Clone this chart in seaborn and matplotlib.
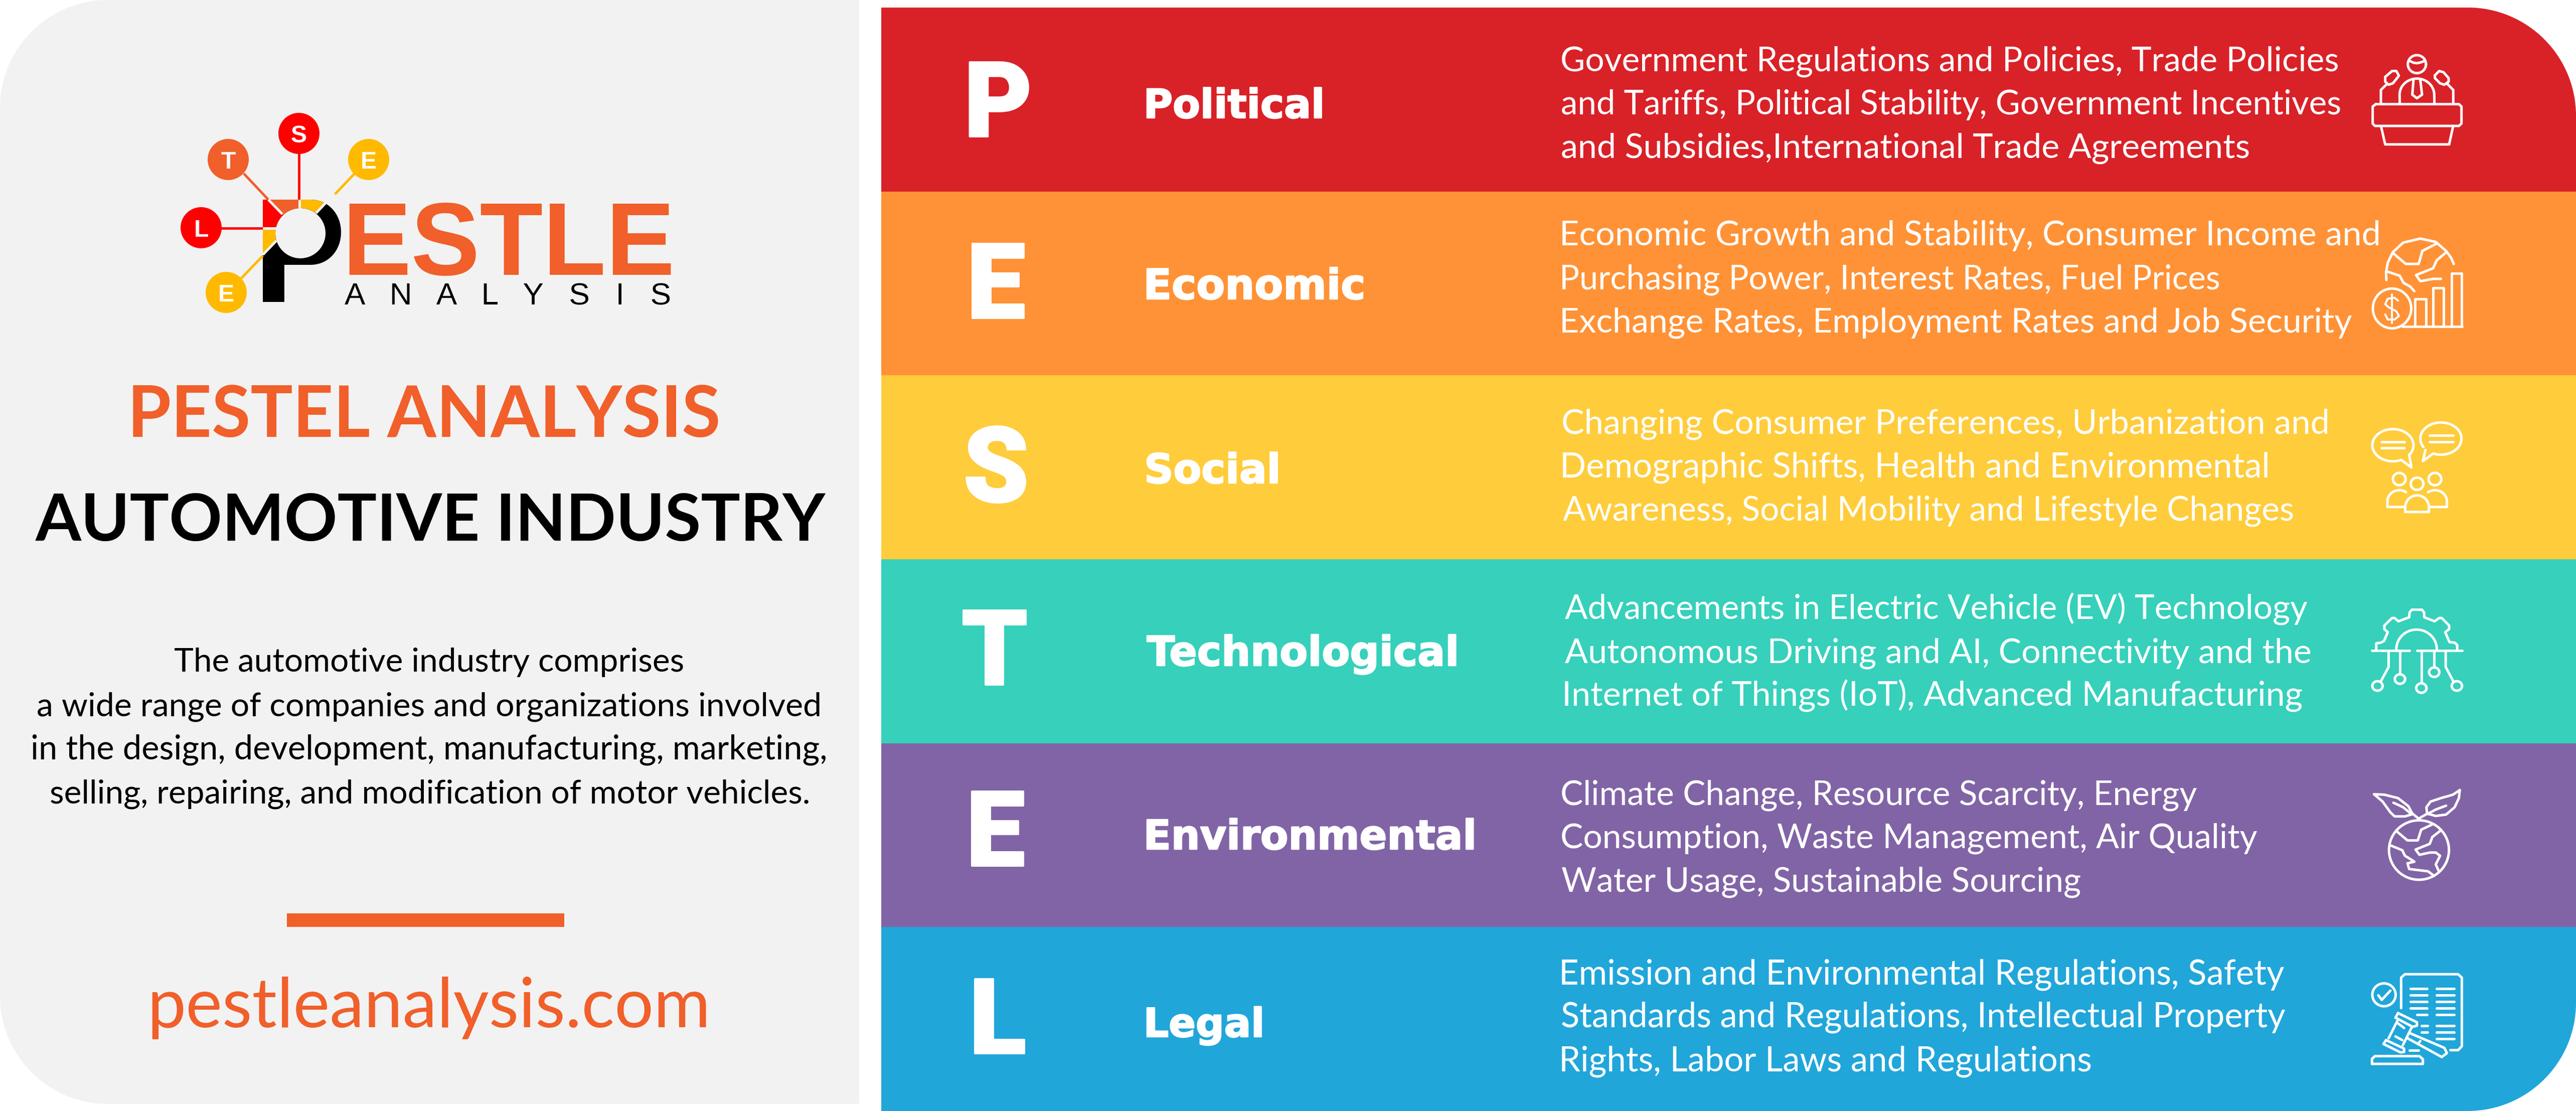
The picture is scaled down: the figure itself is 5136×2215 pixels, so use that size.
import numpy as np
import pandas as pd
import matplotlib
matplotlib.use("Agg")
import matplotlib.pyplot as plt
import matplotlib.patheffects as pe
from matplotlib.font_manager import FontProperties
from matplotlib.path import Path
from matplotlib.patches import PathPatch, Polygon, Circle, Rectangle
from matplotlib.textpath import TextPath
import seaborn as sns

# ---------- content ----------
factors = ["Political", "Economic", "Social", "Technological", "Environmental", "Legal"]
letters = ["P", "E", "S", "T", "E", "L"]
band_share = [1, 1, 1, 1, 1, 1]
band_colors = ["#D92128", "#FF9236", "#FFCC3B", "#36D0BB", "#8164A6", "#21A6DA"]
descriptions = [
    ["Government Regulations and Policies, Trade Policies",
     "and Tariffs, Political Stability, Government Incentives",
     "and Subsidies,International Trade Agreements"],
    ["Economic Growth and Stability, Consumer Income and",
     "Purchasing Power, Interest Rates, Fuel Prices",
     "Exchange Rates, Employment Rates and Job Security"],
    ["Changing Consumer Preferences, Urbanization and",
     "Demographic Shifts, Health and Environmental",
     "Awareness, Social Mobility and Lifestyle Changes"],
    ["Advancements in Electric Vehicle (EV) Technology",
     "Autonomous Driving and AI, Connectivity and the",
     "Internet of Things (IoT), Advanced Manufacturing"],
    ["Climate Change, Resource Scarcity, Energy",
     "Consumption, Waste Management, Air Quality",
     "Water Usage, Sustainable Sourcing"],
    ["Emission and Environmental Regulations, Safety",
     "Standards and Regulations, Intellectual Property",
     "Rights, Labor Laws and Regulations"],
]
title_top = "PESTEL ANALYSIS"
title_main = "AUTOMOTIVE INDUSTRY"
intro = ["The automotive industry comprises",
         "a wide range of companies and organizations involved",
         "in the design, development, manufacturing, marketing,",
         "selling, repairing, and modification of motor vehicles."]
site = "pestleanalysis.com"

# ---------- layout (pixels) ----------
W, H = 5136, 2215
DPI = 100
ORANGE = "#F15F2A"
GREY = "#F2F2F2"
BODY = ["Lato", "DejaVu Sans"]
PX = 72 / DPI

sns.set_theme(style="white")
plt.rcParams["font.family"] = BODY

fig = plt.figure(figsize=(W / DPI, H / DPI), dpi=DPI, facecolor="white")

# bands through seaborn
PANEL_X, PANEL_TOP = 1757, 15
ab = fig.add_axes([PANEL_X / W, 0, 1 - PANEL_X / W, 1 - PANEL_TOP / H], zorder=1)
df = pd.DataFrame({"factor": factors, "share": band_share})
sns.barplot(data=df, y="factor", x="share", hue="factor", palette=band_colors,
            width=1, dodge=False, legend=False, saturation=1, ax=ab)
ab.set_xlim(0, 1)
ab.set_ylim(5.5, -0.5)
ab.axis("off")

# overlay in pixel coordinates
ax = fig.add_axes([0, 0, 1, 1], zorder=2)
ax.set_xlim(0, W)
ax.set_ylim(H, 0)
ax.axis("off")
ax.patch.set_alpha(0)

K = 0.5523
def rounded_right(x0, y0, x1, y1, r):
    return Path([(x0, y0), (x1 - r, y0), (x1 - r + K * r, y0), (x1, y0 + r - K * r), (x1, y0 + r),
                 (x1, y1 - r), (x1, y1 - r + K * r), (x1 - r + K * r, y1), (x1 - r, y1), (x0, y1), (x0, y0)],
                [Path.MOVETO, Path.LINETO, Path.CURVE4, Path.CURVE4, Path.CURVE4,
                 Path.LINETO, Path.CURVE4, Path.CURVE4, Path.CURVE4, Path.LINETO, Path.CLOSEPOLY])
def rounded_left(x0, y0, x1, y1, r):
    return Path([(x1, y0), (x0 + r, y0), (x0 + r - K * r, y0), (x0, y0 + r - K * r), (x0, y0 + r),
                 (x0, y1 - r), (x0, y1 - r + K * r), (x0 + r - K * r, y1), (x0 + r, y1), (x1, y1), (x1, y0)],
                [Path.MOVETO, Path.LINETO, Path.CURVE4, Path.CURVE4, Path.CURVE4,
                 Path.LINETO, Path.CURVE4, Path.CURVE4, Path.CURVE4, Path.LINETO, Path.CLOSEPOLY])

clip = rounded_right(PANEL_X, PANEL_TOP, W, H, 216)
for bar in ab.patches:
    bar.set_clip_path(clip, transform=ax.transData)
    bar.set_edgecolor(bar.get_facecolor())
    bar.set_linewidth(0.6)

ax.add_patch(PathPatch(rounded_left(0, 0, 1713, 2201, 215), fc=GREY, ec="none"))

renderer = fig.canvas.get_renderer()
def fit(x0, x1, base, s, color="black", family=None, weight="normal", **kw):
    """Size a text from its rendered width plus side bearings, then align its first glyph to x0."""
    fp = FontProperties(family=family or BODY, weight=weight)
    ink = TextPath((0, 0), s, size=100, prop=fp).get_extents()
    t = ax.text(x0, base, s, color=color, fontsize=60 * PX, ha="left", va="baseline",
                family=family or BODY, fontweight=weight, **kw)
    for _ in range(4):
        w = t.get_window_extent(renderer).width
        px = t.get_fontsize() / PX
        t.set_fontsize(t.get_fontsize() * ((x1 - x0) + 1.7 * ink.x0 * px / 100) / w)
    t.set_x(x0 - ink.x0 * t.get_fontsize() / PX / 100)
    return t

# left column
fit(265, 1428, 871, title_top, ORANGE, weight="bold")
fit(70, 1646, 1078, title_main, "black", weight="bold")
intro_x = [(348, 1364), (75, 1636), (65, 1648), (101, 1614)]
intro_y = [1339, 1427, 1513, 1601]
for s, (a, b), y in zip(intro, intro_x, intro_y):
    fit(a, b, y, s, "black")
ax.add_patch(Rectangle((572, 1821), 553, 27, fc=ORANGE, ec="none"))
fit(303, 1411, 2048, site, ORANGE)

# right column
BOLD = ["DejaVu Sans"]
BIG = ["Roboto"]
letter_x = [1990, 1986, 1986, 1983, 1985, 1989]
letter_y = [272, 634, 1000, 1365, 1726, 2100]
for s, x, y in zip(letters, letter_x, letter_y):
    ax.text(x, y, s, color="white", fontsize=208 * PX, fontweight="black", family=BIG,
            ha="center", va="baseline",
            path_effects=[pe.withStroke(linewidth=4 * PX, foreground="white")])
label_right = [2636, 2717, 2549, 2909, 2938, 2516]
label_y = [235, 596, 963, 1327, 1693, 2067]
heavier = [pe.withStroke(linewidth=2.5 * PX, foreground="white")]
for s, r, y in zip(factors, label_right, label_y):
    fit(2287, r, y, s, "white", family=BOLD, weight="bold", path_effects=heavier)
desc_left = [3114, 3115, 3116, 3120, 3114, 3114]
desc_right = [(4663, 4665, 4487), (4743, 4422, 4685), (4641, 4521, 4575),
              (4600, 4609, 4589), (4378, 4497, 4148), (4548, 4555, 4166)]
desc_y = [(141, 228, 314), (489, 576, 662), (864, 951, 1037),
          (1234, 1321, 1407), (1604, 1690, 1777), (1962, 2048, 2135)]
for lines, l, rs, ys in zip(descriptions, desc_left, desc_right, desc_y):
    for s, r, y in zip(lines, rs, ys):
        fit(l, r, y, s, "white")

# ---------- logo ----------
def seg(pts, color, w=5, cap="butt", z=3):
    p = np.array(pts, float)
    ax.plot(p[:, 0], p[:, 1], color=color, lw=w * PX, solid_capstyle=cap, solid_joinstyle="round", zorder=z)

theta = np.linspace(0, -2 * np.pi, 80)
hole = np.column_stack([599 + 50 * np.cos(theta), 465 + 50 * np.sin(theta)])
outer = Path([(524, 398), (619, 398), (655, 398), (680, 427), (680, 463), (680, 499), (655, 528), (619, 528),
              (567, 528), (567, 602), (524, 602), (524, 398)],
             [Path.MOVETO, Path.LINETO, Path.CURVE4, Path.CURVE4, Path.CURVE4, Path.CURVE4, Path.CURVE4, Path.CURVE4,
              Path.LINETO, Path.LINETO, Path.LINETO, Path.CLOSEPOLY])
inner = Path(np.vstack([hole, hole[:1]]), [Path.MOVETO] + [Path.LINETO] * 79 + [Path.CLOSEPOLY])
pshape = Path.make_compound_path(outer, inner)
p_patch = PathPatch(pshape, fc="black", ec="none", zorder=3)
ax.add_patch(p_patch)
wedges = [([(518, 380), (597, 380), (597, 465), (599, 465)], ORANGE),
          ([(597, 380), (673, 380), (600, 453), (597, 465)], "#FFBA00"),
          ([(500, 380), (518, 380), (599, 465), (599, 455), (500, 455)], "#FF0000"),
          ([(500, 455), (578, 455), (500, 533)], "#FFBA00")]
for pts, c in wedges:
    g = Polygon(pts, closed=True, fc=c, ec="none", zorder=3.2)
    ax.add_patch(g)
    g.set_clip_path(p_patch)
for pts in ([(535, 398), (563, 427)], [(597, 398), (597, 416)], [(524, 455), (553, 455)],
            [(667, 386), (630, 425)], [(524, 508), (551, 480)]):
    seg(pts, GREY, 5, z=3.4)
seg([(486, 346), (535, 398)], ORANGE)
seg([(596, 300), (596, 398)], "#FF0000")
seg([(707, 346), (667, 388)], "#FFBA00")
seg([(440, 455), (524, 455)], "#FF0000")
seg([(481, 555), (524, 510)], "#FFBA00")
nodes = [("S", 596, 266, "#FF0000"), ("T", 455, 318, ORANGE), ("E", 735, 318, "#FFBA00"),
         ("L", 401, 454, "#FF0000"), ("E", 451, 583, "#FFBA00")]
for s, x, y, c in nodes:
    ax.add_patch(Circle((x, y), 41, fc=c, ec="none", zorder=4))
    ax.text(x, y + 17.5, s, color="white", fontsize=48 * PX, fontweight="bold", family=["Liberation Sans"],
            ha="center", va="baseline", zorder=5)
fit(696, 1336, 548, "ESTLE", ORANGE, family=["Liberation Sans"], weight="bold")
fit(687, 1338, 607, "A   N   A   L   Y   S   I   S", "black", family=["Liberation Sans"])

# ---------- icons (traced strokes) ----------
class Icon:
    def __init__(self, ox, oy, sx, sy):
        self.ox, self.oy, self.sx, self.sy = ox, oy, sx, sy
    def line(self, *pts, closed=False, w=5):
        p = np.array(pts, float)
        if closed:
            p = np.vstack([p, p[:1]])
        ax.plot(self.ox + p[:, 0] / self.sx, self.oy + p[:, 1] / self.sy, color="white", lw=w * PX,
                solid_capstyle="round", solid_joinstyle="round", zorder=6)
    def arc(self, cx, cy, rx, ry, a0=0, a1=360, pre=(), post=(), w=5):
        t = np.radians(np.linspace(a0, a1, 60))
        p = np.column_stack([cx + rx * np.cos(t), cy + ry * np.sin(t)])
        if len(pre):
            p = np.vstack([np.array(pre, float), p])
        if len(post):
            p = np.vstack([p, np.array(post, float)])
        self.line(*p, w=w)

a = Icon(4600, 0, 2.925, 2.119)
a.arc(640, 271, 53, 38)
a.line((600, 258), (620, 265), (640, 267), (660, 264), (684, 258))
a.arc(640, 400, 101, 68, 180, 360, pre=[(540, 437)], post=[(742, 437)])
a.line((620, 338), (613, 400), (640, 415), (670, 400), (660, 338))
a.line((400, 440), (885, 440), (900, 450), (900, 522), (885, 532), (395, 532), (382, 522), (382, 450), closed=True)
a.line((432, 537), (455, 610), (828, 610), (850, 537))
a.line((455, 325), (495, 300), (520, 300), (535, 320), (500, 352), (475, 358), (455, 345), closed=True)
a.line((430, 437), (430, 380), (465, 355))
a.line((745, 318), (770, 300), (795, 305), (825, 330), (825, 345), (800, 358), (775, 352), (745, 330), closed=True)
a.line((852, 437), (852, 380), (818, 355))

a.line((462, 1183), (460, 1150), (470, 1110), (500, 1065), (560, 1025), (660, 1008), (750, 1022), (810, 1060),
       (840, 1090), (855, 1115))
a.line((505, 1072), (575, 1115), (650, 1115), (672, 1060), (758, 1028))
a.line((812, 1065), (755, 1100), (735, 1133), (635, 1162), (660, 1188), (735, 1178), (780, 1178))
a.line((470, 1148), (540, 1165), (562, 1195), (600, 1210), (625, 1230))
a.arc(495, 1303, 112, 84)
a.line((530, 1270), (510, 1258), (470, 1262), (455, 1285), (475, 1298), (520, 1315), (535, 1335), (510, 1350),
       (470, 1350), (455, 1328), w=4)
a.line((495, 1243), (495, 1365), w=4)
a.line((555, 1380), (905, 1380))
a.line((630, 1380), (630, 1263), (692, 1263), (692, 1380))
a.line((733, 1380), (733, 1217), (795, 1217), (795, 1380))
a.line((842, 1380), (842, 1155), (902, 1155), (902, 1380))

b = Icon(4600, 780, 2.925, 2.119)
b.arc(500, 228, 120, 68, 38, -294, post=[(608, 322), (595, 268)])
b.line((432, 213), (567, 213))
b.line((432, 240), (567, 240))
b.arc(780, 200, 120, 68, 148, 472, post=[(675, 295), (690, 248)])
b.line((715, 186), (850, 186))
b.line((715, 213), (850, 213))
for cx, cy in [(537, 371), (641, 391), (745, 371)]:
    b.arc(cx, cy, 37, 26)
b.arc(537, 465, 69, 47, 180, 305, pre=[(565, 489), (468, 489)])
b.arc(745, 465, 70, 47, 0, -125, pre=[(715, 489), (815, 489)])
b.arc(641, 490, 69, 50, 0, -180, pre=[(572, 510), (710, 510)], post=[(572, 510)])

b.line((378, 1095), (598, 1095))
b.line((640, 1095), (905, 1095))
b.arc(638, 1090, 118, 83, 180, 360)
b.line((403, 1090), (403, 1065), (430, 1062), (448, 1055), (470, 1018), (450, 1005), (450, 990), (495, 958),
       (510, 958), (532, 972), (595, 955), (597, 935), (610, 923), (670, 923), (682, 935), (683, 955), (743, 972),
       (770, 958), (785, 958), (828, 990), (828, 1005), (805, 1018), (830, 1060), (860, 1062), (875, 1072), (875, 1090))
b.line((475, 1100), (475, 1165), (430, 1225))
b.arc(410, 1245, 30, 20)
b.line((540, 1100), (540, 1195))
b.arc(541, 1216, 30, 20)
b.line((666, 1100), (666, 1232))
b.arc(666, 1254, 30, 20)
b.line((741, 1100), (741, 1165))
b.arc(741, 1187, 30, 20)
b.line((808, 1100), (808, 1165), (852, 1225))
b.arc(873, 1245, 30, 20)

c = Icon(4600, 1500, 2.925, 2.193)
c.arc(652, 427, 175, 130)
c.line((525, 347), (585, 385), (645, 385), (665, 338), (730, 315))
c.line((778, 342), (730, 370), (715, 400), (632, 425), (655, 448), (715, 438), (750, 438), (775, 452), (750, 490), (768, 520))
c.line((490, 408), (555, 428), (570, 452), (605, 468), (625, 478), (585, 485), (595, 510), (705, 520), (740, 540))
c.line((390, 183), (450, 185), (530, 200), (590, 235), (615, 270), (570, 280), (510, 280), (485, 262), (440, 215), closed=True)
c.line((503, 220), (560, 240), (605, 268))
c.line((890, 165), (885, 200), (860, 240), (810, 272), (750, 278), (700, 268), (695, 240), (720, 215), (780, 200), (850, 185), closed=True)
c.line((810, 233), (750, 250), (700, 270))
c.line((615, 268), (650, 290), (700, 268))

c.arc(448, 1060, 68, 50)
c.line((415, 1062), (435, 1082), (485, 1042))
c.line((548, 1118), (548, 985), (570, 970), (880, 970), (902, 985), (902, 1285), (880, 1302), (835, 1302))
for y in (1032, 1061, 1090, 1119):
    c.line((602, y), (700, y))
c.line((640, 1148), (700, 1148))
for y in (1195, 1223):
    c.line((668, y), (703, y))
for y in (1032, 1061, 1090, 1119, 1148, 1195, 1223, 1252):
    c.line((755, y), (858, y))
c.line((597, 1302), (650, 1302))
c.line((530, 1140), (640, 1180), (640, 1195), (615, 1200), (515, 1160), closed=True)
c.line((460, 1258), (565, 1295), (565, 1310), (545, 1312), (445, 1275), closed=True)
c.line((525, 1175), (475, 1250))
c.line((608, 1205), (558, 1280))
c.line((530, 1185), (565, 1205))
c.line((515, 1242), (555, 1258))
c.line((600, 1228), (800, 1292), (815, 1315), (785, 1332), (585, 1250))
c.line((660, 1262), (645, 1275))
c.line((378, 1362), (378, 1340), (395, 1328), (655, 1328), (675, 1342), (675, 1362), closed=True)

fig.savefig("out.png", dpi=DPI, facecolor="white")
